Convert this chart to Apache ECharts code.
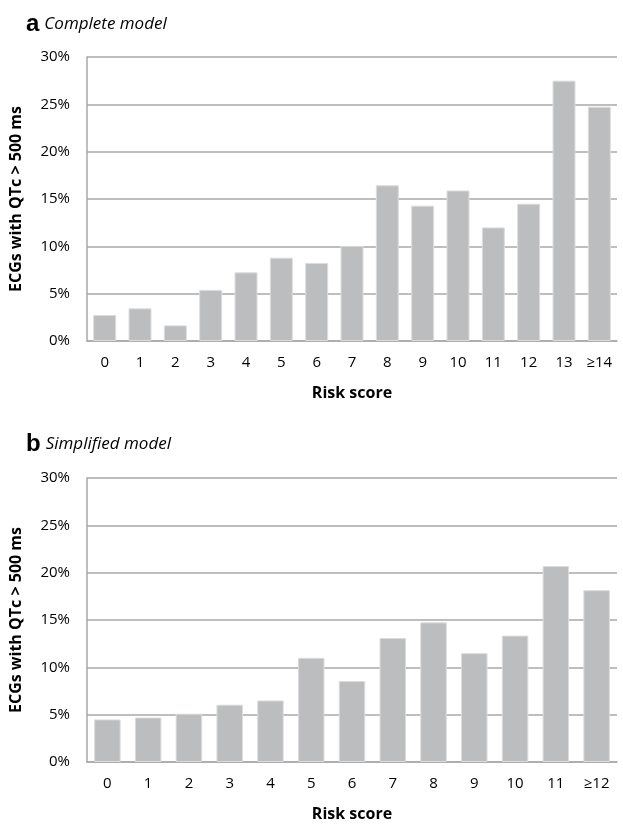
<!DOCTYPE html>
<html>
<head>
<meta charset="utf-8">
<script src="https://cdn.jsdelivr.net/npm/echarts@6/dist/echarts.min.js"></script>
<style>html,body{margin:0;padding:0;background:#fff}#c{width:623px;height:824px}</style>
</head>
<body>
<div id="c"></div>
<script>
const categoriesA = ['0','1','2','3','4','5','6','7','8','9','10','11','12','13','≥14'];
const valuesA = [2.75, 3.45, 1.65, 5.4, 7.25, 8.8, 8.25, 10.05, 16.45, 14.3, 15.9, 12.0, 14.5, 27.5, 24.75];
const categoriesB = ['0','1','2','3','4','5','6','7','8','9','10','11','≥12'];
const valuesB = [4.5, 4.7, 5.1, 6.05, 6.5, 11.0, 8.55, 13.1, 14.75, 11.5, 13.35, 20.7, 18.15];
const yTicks = [0, 5, 10, 15, 20, 25, 30];
const titleA = ['a', 'Complete model'];
const titleB = ['b', 'Simplified model'];
const yName = 'ECGs with QTc > 500 ms';
const xName = 'Risk score';

const FONT = 'Open Sans';
const gridColor = '#a9a9a9';
const barColor = '#bcbdbf';

function mkTitle(t, top) {
  return {
    text: '{b|' + t[0] + '} {i|' + t[1] + '}',
    left: 21, top: top,
    textStyle: {
      fontWeight: 'normal',
      rich: {
        b: {fontFamily: 'Liberation Sans', fontWeight: 'bold', fontSize: 24, color: '#000'},
        i: {fontFamily: FONT, fontStyle: 'italic', fontWeight: 'normal', fontSize: 17, color: '#000'}
      }
    }
  };
}
function mkX(cats, gi) {
  return {
    type: 'category', gridIndex: gi, data: cats,
    name: xName, nameLocation: 'middle', nameGap: 44,
    nameTextStyle: {fontFamily: FONT, fontWeight: 'bold', fontSize: 16, color: '#000'},
    axisLine: {lineStyle: {color: gridColor, width: 1.5}},
    axisTick: {show: false},
    axisLabel: {fontFamily: FONT, fontSize: 15, color: '#000', margin: 14, interval: 0}
  };
}
function mkY(gi) {
  return {
    type: 'value', gridIndex: gi, min: yTicks[0], max: yTicks[yTicks.length - 1], interval: yTicks[1] - yTicks[0],
    name: yName, nameLocation: 'middle', nameGap: 63, nameRotate: 90,
    nameTextStyle: {fontFamily: FONT, fontWeight: 'bold', fontSize: 16, color: '#000'},
    axisLine: {show: true, lineStyle: {color: gridColor, width: 1.5}},
    axisTick: {show: false},
    splitLine: {lineStyle: {color: gridColor, width: 1.5}},
    axisLabel: {fontFamily: FONT, fontSize: 15, color: '#000', margin: 17, formatter: '{value}%'}
  };
}
function mkSeries(vals, gi) {
  return {
    type: 'bar', xAxisIndex: gi, yAxisIndex: gi, data: vals,
    barCategoryGap: '35%',
    itemStyle: {color: barColor, borderColor: '#dcdcdc', borderWidth: 1},
    silent: true
  };
}

const chart = echarts.init(document.getElementById('c'), null, {renderer: 'canvas'});
chart.setOption({
  backgroundColor: '#fff',
  animation: false,
  title: [mkTitle(titleA, 7), mkTitle(titleB, 427)],
  grid: [
    {left: 85, top: 57, width: 532, height: 284},
    {left: 85, top: 478, width: 532, height: 284}
  ],
  xAxis: [mkX(categoriesA, 0), mkX(categoriesB, 1)],
  yAxis: [mkY(0), mkY(1)],
  series: [mkSeries(valuesA, 0), mkSeries(valuesB, 1)]
});
</script>
</body>
</html>
